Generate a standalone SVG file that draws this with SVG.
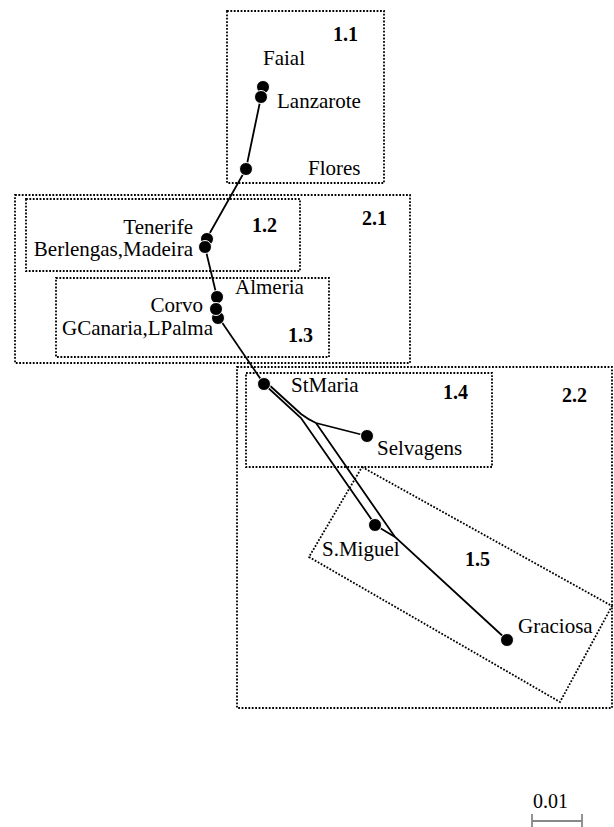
<svg xmlns="http://www.w3.org/2000/svg" width="614" height="827" viewBox="0 0 614 827">
<style>
.box{fill:none;stroke:#000;stroke-width:1.8;stroke-dasharray:1.8,1.6}
.edge{fill:none;stroke:#000;stroke-width:1.8}
.dot{fill:#000;stroke:#fff;stroke-width:1}
text{font-family:"Liberation Serif","Times New Roman",serif;font-size:21px;fill:#000}
.lbl{font-weight:bold;font-size:20px}
</style>
<rect width="614" height="827" fill="#fff"/>
<g id="clusters">
<g id="c1_1"><rect class="box" x="227" y="11" width="157" height="172"/><text class="lbl" x="333" y="41">1.1</text></g>
<g id="c2_1"><rect class="box" x="15" y="195" width="395" height="168"/><text class="lbl" x="362" y="225">2.1</text></g>
<g id="c1_2"><rect class="box" x="26" y="199" width="274" height="72"/><text class="lbl" x="252" y="232">1.2</text></g>
<g id="c1_3"><rect class="box" x="56" y="278" width="273" height="79"/><text class="lbl" x="288" y="342">1.3</text></g>
<g id="c2_2"><rect class="box" x="237" y="367" width="375" height="341"/><text class="lbl" x="562" y="402">2.2</text></g>
<g id="c1_4"><rect class="box" x="246" y="373" width="246" height="94"/><text class="lbl" x="443" y="399">1.4</text></g>
<g id="c1_5"><polygon class="box" points="362,467 612,606 560,702 309,557"/><text class="lbl" x="465" y="566">1.5</text></g>
</g>
<g id="connectors">
<path class="edge" d="M261,97 L246,169 L207,238"/>
<path class="edge" d="M205,247 L217,297"/>
<path class="edge" d="M219,318 L264,384"/>
<path class="edge" d="M264,384 L301,418 L374,523"/>
<path class="edge" d="M267,383 L301,414 Q309,420 316,423 L367,436"/>
<path class="edge" d="M316,423 L395,537 L507,640"/>
<path class="edge" d="M375,525 L395,537"/>
</g>
<g id="nodes">
<g id="Faial"><circle class="dot" cx="263" cy="87" r="6.5"/><text x="263" y="65">Faial</text></g>
<g id="Lanzarote"><circle class="dot" cx="261" cy="97" r="6.5"/><text x="277" y="108">Lanzarote</text></g>
<g id="Flores"><circle class="dot" cx="246" cy="169" r="6.5"/><text x="308" y="175">Flores</text></g>
<g id="Tenerife"><circle class="dot" cx="207" cy="239" r="6.5"/><text x="193" y="234" text-anchor="end">Tenerife</text></g>
<g id="BerlengasMadeira"><circle class="dot" cx="205" cy="247" r="6.5"/><text x="193" y="256" text-anchor="end">Berlengas,Madeira</text></g>
<g id="Almeria"><circle class="dot" cx="217" cy="297" r="6.5"/><text x="235" y="294">Almeria</text></g>
<g id="GCanariaLPalma"><circle class="dot" cx="218" cy="318" r="6.5"/><text x="213" y="335" text-anchor="end">GCanaria,LPalma</text></g>
<g id="Corvo"><circle class="dot" cx="216" cy="309" r="6.5"/><text x="203" y="312" text-anchor="end">Corvo</text></g>
<g id="StMaria"><circle class="dot" cx="264" cy="384" r="6.5"/><text x="291" y="392">StMaria</text></g>
<g id="Selvagens"><circle class="dot" cx="367" cy="436" r="6.5"/><text x="377" y="455">Selvagens</text></g>
<g id="SMiguel"><circle class="dot" cx="375" cy="525" r="6.5"/><text x="322" y="556">S.Miguel</text></g>
<g id="Graciosa"><circle class="dot" cx="507" cy="640" r="6.5"/><text x="518" y="633">Graciosa</text></g>
</g>
<g id="scale">
<text x="533" y="808" style="font-size:20px">0.01</text>
<path d="M532,821 H582 M532,814 V828 M582,814 V828" fill="none" stroke="#888" stroke-width="1.8"/>
</g>
</svg>
